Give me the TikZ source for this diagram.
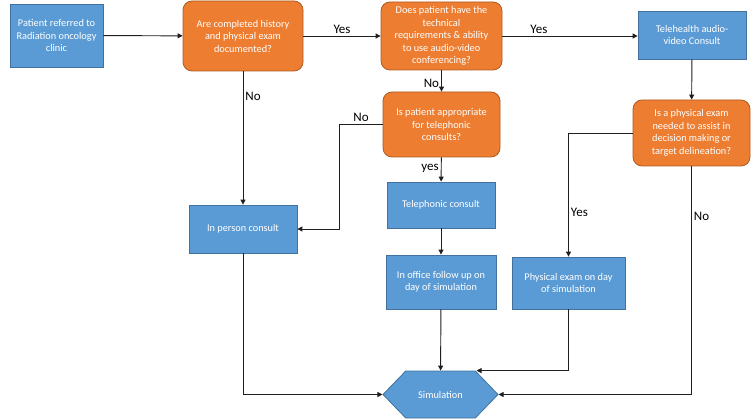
\documentclass[tikz,border=0pt]{standalone}
\usepackage{fontspec}
\setmainfont{Carlito}
\definecolor{boxblue}{HTML}{5B9BD5}
\definecolor{boxblueline}{HTML}{41719C}
\definecolor{qorange}{HTML}{ED7D31}
\definecolor{qorangeline}{HTML}{AE5A21}
\definecolor{linegray}{HTML}{1F1F1F}
\usetikzlibrary{arrows.meta, positioning, shapes.symbols, calc}
\tikzset{
	flowbox/.style={rectangle, draw=boxblueline, fill=boxblue, line width=0.8pt, align=center, text=white, inner sep=1pt, font=\fontsize{10.3}{12.5}\selectfont},
	decision/.style={rectangle, rounded corners=9pt, draw=qorangeline, fill=qorange, line width=0.8pt, align=center, text=white, inner sep=1pt, font=\fontsize{10.3}{12.5}\selectfont},
	sim/.style={signal, signal to=west and east, signal pointer angle=92, draw=boxblueline, fill=boxblue, line width=0.8pt, text=white, inner sep=1pt, font=\fontsize{10.3}{12.5}\selectfont},
	arrow/.style={-{Triangle[length=5pt, width=5pt]}, line width=0.95pt, draw=linegray},
	lbl/.style={font=\fontsize{13}{15}\selectfont, text=black, inner sep=2pt},
}
\begin{document}
\begin{tikzpicture}[x=1pt, y=-1pt]
		\useasboundingbox (0,0) rectangle (751,419);
		% top row
		\node[flowbox, minimum width=93pt, minimum height=63pt] (referred) at (56.5,35.5) {Patient referred to\\Radiation oncology\\clinic};
		\node[decision, minimum width=120pt, minimum height=70pt] (history) at (243,36) {Are completed history\\and physical exam\\documented?};
		\node[decision, minimum width=121pt, minimum height=68pt] (technical) at (441.5,36) {Does patient have the\\technical\\requirements \& ability\\to use audio-video\\conferencing?};
		\node[flowbox, minimum width=108pt, minimum height=48pt] (telehealth) at (692,35) {Telehealth audio-\\video Consult};
		% middle
		\node[decision, minimum width=117pt, minimum height=65pt] (appropriate) at (441.5,124.5) {Is patient appropriate\\for telephonic\\consults?};
		\node[decision, minimum width=117pt, minimum height=66pt] (examneeded) at (691.5,133) {Is a physical exam\\needed to assist in\\decision making or\\target delineation?};
		\node[flowbox, minimum width=108pt, minimum height=46pt] (telephonic) at (441,205) {Telephonic consult};
		\node[flowbox, minimum width=108pt, minimum height=48pt] (inperson) at (243,229) {In person consult};
		\node[flowbox, minimum width=110pt, minimum height=54pt] (inoffice) at (441,282) {In office follow up on\\day of simulation};
		\node[flowbox, minimum width=113pt, minimum height=52pt] (physical) at (568.5,283) {Physical exam on day\\of simulation};
		% bottom
		\node[sim, minimum width=115pt, minimum height=47pt] (simulation) at (440.5,394.5) {Simulation};
		\draw[arrow] (referred) -- (history);
		\draw[arrow] (history) -- node[lbl, above] {Yes} (technical);
		\draw[arrow] (technical.east) -- node[lbl, above, pos=0.27] {Yes} (technical.east -| telehealth.west);
		\draw[arrow] (telehealth) -- (examneeded);
		\draw[arrow] (technical) -- node[lbl, left, pos=0.6] {No} (appropriate);
		\draw[arrow] (history) -- node[lbl, right, pos=0.19] {No} (inperson);
		\draw[arrow] (appropriate.west) -- node[lbl, above] {No} ++(-43,0) |- (inperson.east);
		\draw[arrow] (appropriate) -- node[lbl, left, pos=0.45] {yes} (telephonic);
		\draw[arrow] (telephonic) -- (inoffice);
		\draw[arrow] (examneeded.west) -| node[lbl, right, pos=0.82] {Yes} (physical.north);
		\draw[arrow] (examneeded.south) |- node[lbl, right, pos=0.11] {No} (simulation.east);
		\draw[arrow] (inoffice) -- (simulation);
		\draw[arrow] (physical.south) |- ([xshift=36pt]simulation.north);
		\draw[arrow] (inperson.south) |- (simulation.west);
	\end{tikzpicture}
\end{document}
